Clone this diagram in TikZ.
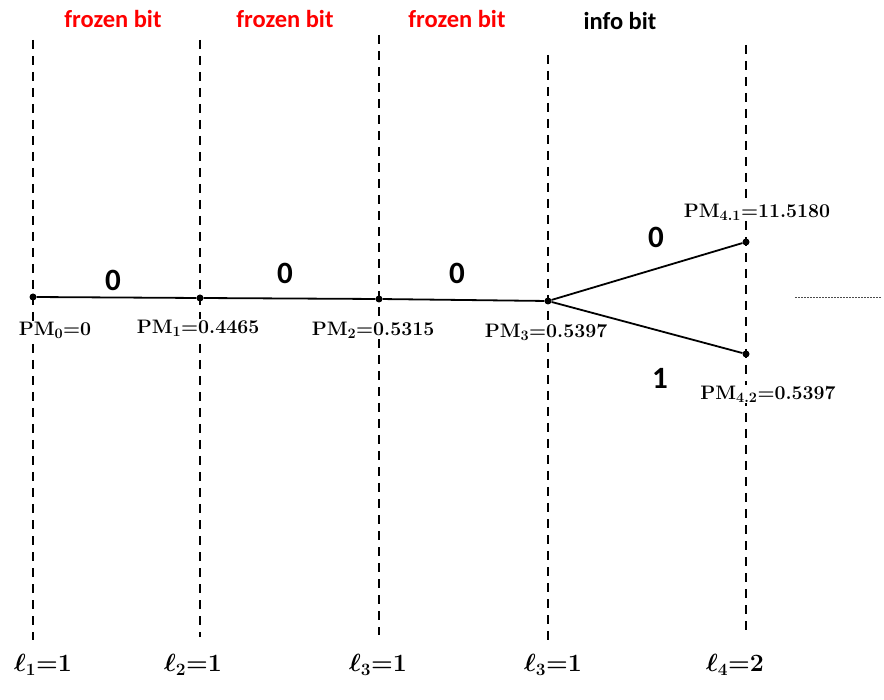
\documentclass[tikz,border=0pt]{standalone}
\usepackage{fontspec}
\usepackage{amsmath,bm}
\newfontfamily\calib{Carlito}
\begin{document}
\begin{tikzpicture}[x=1pt,y=-1pt,
  vline/.style={draw=black, line width=1.8pt, dash pattern=on 9pt off 7pt},
  branch/.style={draw=black, line width=1.8pt},
  pt/.style={circle, fill=black, inner sep=0pt, minimum size=7pt},
  toplab/.style={font=\calib\bfseries\fontsize{24.5}{28}\selectfont, text=red},
  bitlab/.style={font=\calib\bfseries\fontsize{31}{36}\selectfont},
  pmlab/.style={font=\bfseries\fontsize{19.5}{23}\selectfont, fill=white, inner sep=1pt},
  llab/.style={font=\fontsize{26}{30}\selectfont}]
\useasboundingbox (0,0) rectangle (884,700);
% nodes on the trellis
\node[pt] (n0) at (33,297) {};
\node[pt] (n1) at (200,298) {};
\node[pt] (n2) at (379,299) {};
\node[pt] (n3) at (548,301) {};
\node[pt] (n41) at (746,242) {};
\node[pt] (n42) at (746,354) {};
% dashed vertical guides
\coordinate (t0) at (33,40);  \coordinate (b0) at (33,640);
\coordinate (t1) at (200,40); \coordinate (b1) at (200,637);
\coordinate (t2) at (379,35); \coordinate (b2) at (379,635);
\coordinate (t3) at (548,55); \coordinate (b3) at (548,645);
\coordinate (t4) at (746,45); \coordinate (b4) at (746,632);
\draw[vline] (t0) -- (b0);
\draw[vline] (t1) -- (b1);
\draw[vline] (t2) -- (b2);
\draw[vline] (t3) -- (b3);
\draw[vline] (t4) -- (b4);
% branches
\draw[branch] (n0) -- (n1) -- (n2) -- (n3);
\draw[branch] (n3) -- (n41);
\draw[branch] (n3) -- (n42);
% dotted continuation
\coordinate (d1) at (795,297); \coordinate (d2) at (882,297);
\draw[line width=0.8pt, dash pattern=on 1.5pt off 1.5pt, black!70] (d1) -- (d2);
% top labels
\node[toplab] (f1) at (113,19) {frozen bit};
\node[toplab] (f2) at (285,19) {frozen bit};
\node[toplab] (f3) at (457,19) {frozen bit};
\node[toplab, text=black] (ib) at (620,21) {info bit};
% bit labels
\node[bitlab] (z1) at (113,280) {0};
\node[bitlab] (z2) at (285,273) {0};
\node[bitlab] (z3) at (457,273) {0};
\node[bitlab] (z4) at (656,237) {0};
\node[bitlab] (o1) at (660,378) {1};
% path metric labels
\node[pmlab] (p0) at (55,330) {PM$_{\bm 0}$=0};
\node[pmlab] (p1) at (198,328) {PM$_{\bm 1}$=0.4465};
\node[pmlab] (p2) at (373,330) {PM$_{\bm 2}$=0.5315};
\node[pmlab] (p3) at (546,332) {PM$_{\bm 3}$=0.5397};
\node[pmlab] (p41) at (757,212) {PM$_{\bm{4.1}}$=11.5180};
\node[pmlab] (p42) at (768,394) {PM$_{\bm{4.2}}$=0.5397};
% ell labels
\node[llab] (l1) at (43,665) {$\bm{\ell_1{=}1}$};
\node[llab] (l2) at (193,665) {$\bm{\ell_2{=}1}$};
\node[llab] (l3) at (378,665) {$\bm{\ell_3{=}1}$};
\node[llab] (l3b) at (553,665) {$\bm{\ell_3{=}1}$};
\node[llab] (l4) at (735,665) {$\bm{\ell_4{=}2}$};
\end{tikzpicture}
\end{document}
